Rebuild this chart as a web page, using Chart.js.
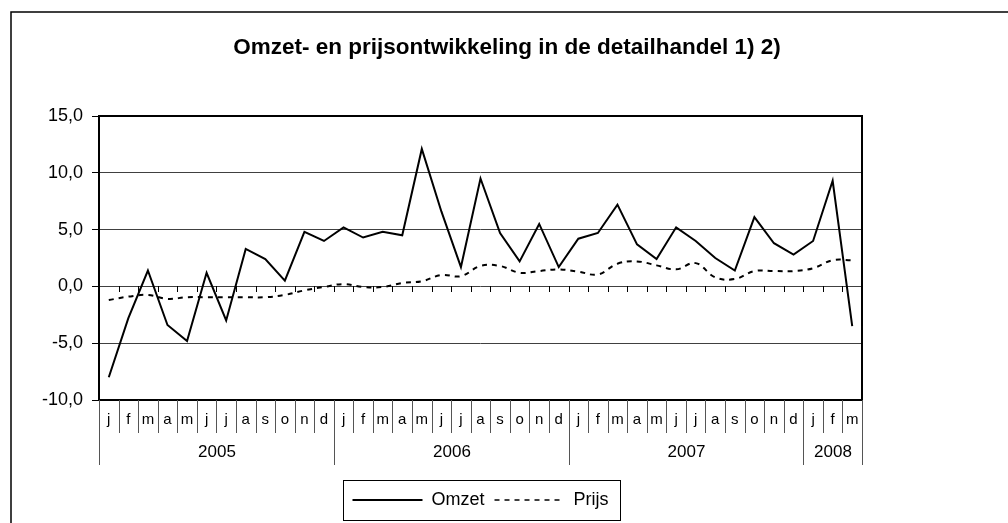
<!DOCTYPE html>
<html>
<head>
<meta charset="utf-8">
<script src="https://cdn.jsdelivr.net/npm/chart.js@4.4.1/dist/chart.umd.min.js"></script>
<style>
  html, body { margin: 0; padding: 0; background: #fff; }
</style>
</head>
<body>
<canvas id="omzet-chart" width="1008" height="523"></canvas>
<script>
// -------- data -------- //
const monthLabels = [
  'j', 'f', 'm', 'a', 'm', 'j', 'j', 'a', 's', 'o', 'n', 'd',
  'j', 'f', 'm', 'a', 'm', 'j', 'j', 'a', 's', 'o', 'n', 'd',
  'j', 'f', 'm', 'a', 'm', 'j', 'j', 'a', 's', 'o', 'n', 'd',
  'j', 'f', 'm'
];
const yearLabels = ['2005', '2006', '2007', '2008'];
const monthsPerYear = [12, 12, 12, 3];

const omzetData = [
  -8.0, -2.8, 1.4, -3.4, -4.8, 1.2, -3.0, 3.3, 2.4, 0.5, 4.8, 4.0,
  5.2, 4.3, 4.8, 4.5, 12.1, 6.6, 1.7, 9.5, 4.7, 2.2, 5.5, 1.7,
  4.2, 4.7, 7.2, 3.7, 2.4, 5.2, 4.0, 2.5, 1.4, 6.1, 3.8, 2.8,
  4.0, 9.3, -3.5
];
const prijsData = [
  -1.2, -0.9, -0.75, -1.1, -0.95, -0.95, -0.95, -0.95, -0.95, -0.75, -0.35, -0.05,
  0.2, -0.05, -0.05, 0.3, 0.45, 1.0, 0.9, 1.8, 1.8, 1.2, 1.35, 1.5,
  1.3, 1.05, 2.0, 2.2, 1.85, 1.5, 2.05, 0.8, 0.65, 1.35, 1.35, 1.35,
  1.6, 2.3, 2.3
];
const yTicks = { min: -10, max: 15, step: 5 };

const FONT = "'Liberation Sans', Arial, sans-serif";

// -------- plugin: outer frame, plot border, month/year table, legend frame -------- //
const excelLook = {
  id: 'excelLook',
  beforeDraw(chart) {
    const ctx = chart.ctx;
    ctx.save();
    ctx.fillStyle = '#fff';
    ctx.fillRect(0, 0, chart.width, chart.height);
    ctx.strokeStyle = '#000';
    ctx.lineWidth = 1.5;
    ctx.strokeRect(11, 12, 1010, 530);
    ctx.restore();
  },
  beforeDatasetsDraw(chart) {
    const ctx = chart.ctx;
    const a = chart.chartArea;
    const x = chart.scales.x;
    const half = (x.getPixelForValue(1) - x.getPixelForValue(0)) / 2;
    const zeroY = Math.round(chart.scales.y.getPixelForValue(0));
    ctx.save();
    ctx.strokeStyle = '#000';
    ctx.lineWidth = 2;
    ctx.strokeRect(a.left, a.top, a.right - a.left, a.bottom - a.top);

    // small category ticks where the x axis crosses at 0
    ctx.lineWidth = 1;
    for (let i = 1; i < monthLabels.length; i++) {
      const px = Math.round(x.getPixelForValue(i) - half) + 0.5;
      ctx.beginPath();
      ctx.moveTo(px, zeroY);
      ctx.lineTo(px, zeroY + 6);
      ctx.stroke();
    }
    ctx.restore();
  },
  afterDraw(chart) {
    const ctx = chart.ctx;
    const x = chart.scales.x;
    const bottom = chart.chartArea.bottom;
    const half = (x.getPixelForValue(1) - x.getPixelForValue(0)) / 2;
    const edge = i => Math.round(i < monthLabels.length
      ? x.getPixelForValue(i) - half
      : x.getPixelForValue(monthLabels.length - 1) + half) + 0.5;

    // year boundaries
    const yearStarts = [0];
    monthsPerYear.forEach(n => yearStarts.push(yearStarts[yearStarts.length - 1] + n));

    ctx.save();
    ctx.strokeStyle = '#555';
    ctx.lineWidth = 1;
    for (let i = 0; i <= monthLabels.length; i++) {
      const len = yearStarts.includes(i) ? 65 : 33;
      ctx.beginPath();
      ctx.moveTo(edge(i), bottom);
      ctx.lineTo(edge(i), bottom + len);
      ctx.stroke();
    }

    ctx.fillStyle = '#000';
    ctx.textAlign = 'center';
    ctx.textBaseline = 'middle';
    ctx.font = '15px ' + FONT;
    monthLabels.forEach((m, i) => ctx.fillText(m, x.getPixelForValue(i), bottom + 20));

    ctx.font = '17px ' + FONT;
    yearLabels.forEach((yr, k) => {
      const mid = (edge(yearStarts[k]) + edge(yearStarts[k + 1])) / 2;
      ctx.fillText(yr, mid, bottom + 52);
    });

    // legend frame
    const hb = chart.legend.legendHitBoxes;
    if (hb && hb.length) {
      const l = hb[0].left - 9;
      const r = hb[hb.length - 1].left + hb[hb.length - 1].width + 12;
      const t = hb[0].top - 11;
      const b = hb[0].top + hb[0].height + 11;
      ctx.strokeStyle = '#000';
      ctx.lineWidth = 1;
      ctx.strokeRect(Math.round(l) + 0.5, Math.round(t) + 0.5, Math.round(r - l), Math.round(b - t));
    }
    ctx.restore();
  }
};

// -------- chart -------- //
const canvas = document.getElementById('omzet-chart');

const chartData = {
  labels: monthLabels,
  datasets: [{
    label: 'Omzet',
    data: omzetData,
    borderColor: '#000',
    backgroundColor: '#000',
    borderWidth: 2,
    pointRadius: 0,
    tension: 0,
    fill: false
  }, {
    label: 'Prijs',
    data: prijsData,
    borderColor: '#000',
    backgroundColor: '#000',
    borderWidth: 2,
    borderDash: [5, 5],
    pointRadius: 0,
    tension: 0.4,
    fill: false
  }]
};

// legend samples should carry the dash of their dataset
const legendLabels = chart => Chart.defaults.plugins.legend.labels.generateLabels(chart)
  .map((item, i) => Object.assign(item, {
    lineDash: chart.data.datasets[i].borderDash || [],
    lineWidth: i === 1 ? 1.5 : 2
  }));

const chartOptions = {
  responsive: false,
  animation: false,
  devicePixelRatio: 1,
  layout: { padding: { top: 0, left: 10, right: 4, bottom: 4 } },
  scales: {
    x: {
      type: 'category',
      offset: true,
      grid: { display: false },
      border: { display: false },
      ticks: { display: false },
      afterFit: scale => { scale.height = 81; }
    },
    y: {
      min: yTicks.min,
      max: yTicks.max,
      ticks: {
        stepSize: yTicks.step,
        color: '#000',
        padding: 9,
        font: { family: FONT, size: 18 },
        callback: v => v.toFixed(1).replace('.', ',')
      },
      grid: { color: '#404040', tickColor: '#000', tickLength: 7, lineWidth: 1 },
      border: { display: false },
      afterFit: scale => { scale.width = 89; }
    },
    y2: {
      type: 'linear',
      position: 'right',
      grid: { display: false },
      border: { display: false },
      ticks: { display: false },
      afterFit: scale => { scale.width = 142; }
    }
  },
  plugins: {
    title: {
      display: true,
      text: 'Omzet- en prijsontwikkeling in de detailhandel 1) 2)',
      color: '#000',
      font: { family: FONT, size: 22.5, weight: 'bold' },
      padding: { top: 34, bottom: 55 }
    },
    legend: {
      position: 'bottom',
      fullSize: false,
      labels: {
        usePointStyle: true,
        pointStyle: 'line',
        pointStyleWidth: 70,
        color: '#000',
        padding: 10,
        font: { family: FONT, size: 18 },
        generateLabels: legendLabels
      }
    },
    tooltip: { enabled: false }
  }
};

const omzetChart = new Chart(canvas, {
  type: 'line',
  data: chartData,
  options: chartOptions,
  plugins: [excelLook]
});
</script>
</body>
</html>
